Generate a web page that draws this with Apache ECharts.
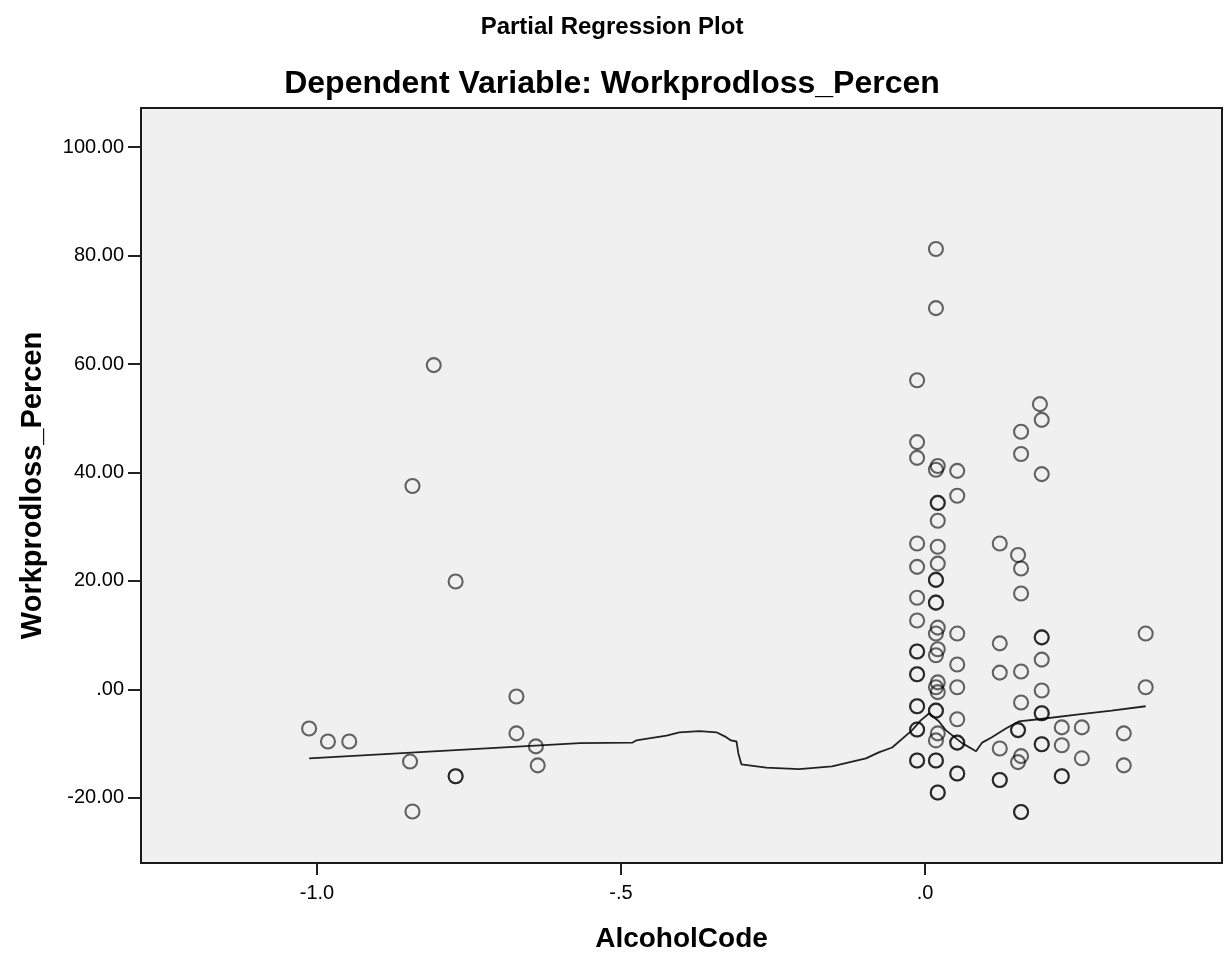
<!DOCTYPE html>
<html>
<head>
<meta charset="utf-8">
<script src="https://cdn.jsdelivr.net/npm/echarts@6/dist/echarts.min.js"></script>
<style>html,body{margin:0;padding:0;background:#fff}#c{width:1224px;height:958px}</style>
</head>
<body>
<div id="c"></div>
<script>
// Observed points: [AlcoholCode residual, Workprodloss_Percen residual]
var leftPoints = [
  [-1.013,-7.2],[-0.982,-9.6],[-0.947,-9.6],[-0.847,-13.3],[-0.843,-22.5],[-0.843,37.5],
  [-0.808,59.8],[-0.772,19.9],[-0.772,-16.0],[-0.772,-16.0],[-0.672,-1.3],[-0.672,-8.1],
  [-0.640,-10.5],[-0.637,-14.0]
];
var colNeg013 = [57.0,45.6,42.7,26.9,22.6,16.9,12.7,7.0,7.0,2.8,2.8,-3.1,-3.1,-7.4,-7.4,-13.1,-13.1];
var col018 = [81.2,70.3,40.5,20.2,20.2,16.0,16.0,10.3,6.3,0.4,-3.9,-3.9,-9.4,-13.1,-13.1];
var col021 = [41.2,34.4,34.4,31.1,26.3,23.2,11.4,7.4,1.3,-0.5,-8.1,-19.0,-19.0];
var col053 = [40.3,35.7,10.3,4.6,0.4,-5.5,-9.8,-9.8,-15.5,-15.5];
var col123 = [26.9,8.5,3.1,-10.9,-16.7,-16.7];
var col153 = [24.8,-7.5,-7.5,-13.4];
var col158 = [47.5,43.4,22.3,17.7,3.3,-2.4,-12.3,-22.6,-22.6];
var col189 = [52.6];
var col192 = [49.7,39.7,9.6,9.6,5.5,-0.2,-4.4,-4.4,-10.1,-10.1];
var col225 = [-7.0,-10.3,-16.0,-16.0];
var col258 = [-7.0,-12.7];
var col327 = [-8.1,-14.0];
var col363 = [10.3,0.4];

// Loess fit line
var fitX = [-1.013,-0.568,-0.481,-0.475,-0.425,-0.404,-0.371,-0.343,-0.327,-0.319,-0.310,-0.307,-0.302,-0.261,-0.207,-0.153,-0.097,-0.076,-0.054,-0.021,-0.007,0.007,0.023,0.034,0.061,0.084,0.094,0.110,0.133,0.154,0.187,0.253,0.307,0.363];
var fitY = [-12.7,-9.9,-9.8,-9.4,-8.5,-7.9,-7.7,-7.9,-8.8,-9.4,-9.6,-11.8,-13.8,-14.4,-14.7,-14.2,-12.7,-11.6,-10.7,-7.5,-5.7,-4.4,-5.9,-7.5,-9.9,-11.4,-9.8,-8.8,-7.2,-5.9,-5.5,-4.6,-3.9,-3.1];

var xTicks = [-1.0,-0.5,0.0];
var yTicks = [-20,0,20,40,60,80,100];

function col(x, ys){ return ys.map(function(y){return [x,y];}); }
var points = leftPoints
  .concat(col(-0.013,colNeg013)).concat(col(0.018,col018)).concat(col(0.021,col021))
  .concat(col(0.053,col053)).concat(col(0.123,col123)).concat(col(0.153,col153))
  .concat(col(0.158,col158)).concat(col(0.189,col189)).concat(col(0.192,col192))
  .concat(col(0.225,col225)).concat(col(0.258,col258)).concat(col(0.327,col327))
  .concat(col(0.363,col363));
var fit = fitX.map(function(x,i){return [x,fitY[i]];});

function fmt(v, d){
  var s = Math.abs(v).toFixed(d);
  if (s.charAt(0)==='0') s = s.substring(1);
  return (v < 0 ? '-' : '') + s;
}

var FONT = '"Liberation Sans", Arial, sans-serif';
var chart = echarts.init(document.getElementById('c'), null, {renderer:'canvas'});
chart.setOption({
  animation:false,
  backgroundColor:'#ffffff',
  title:[
    {text:'Partial Regression Plot', left:'center', top:10, textStyle:{fontFamily:FONT,fontWeight:'bold',fontSize:24,color:'#000'}},
    {text:'Dependent Variable: Workprodloss_Percen', left:'center', top:63, textStyle:{fontFamily:FONT,fontWeight:'bold',fontSize:32,color:'#000'}}
  ],
  grid:{left:141, top:108, width:1081, height:756, show:true, backgroundColor:'#f0f0f0', borderColor:'#1a1a1a', borderWidth:2},
  xAxis:{
    type:'value', min:-1.2895, max:0.4885,
    name:'AlcoholCode', nameLocation:'middle', nameGap:62,
    nameTextStyle:{fontFamily:FONT,fontWeight:'bold',fontSize:28,color:'#000'},
    splitLine:{show:false}, axisLine:{show:false, onZero:false},
    axisTick:{show:true, customValues:xTicks, length:12, lineStyle:{color:'#222',width:2}},
    axisLabel:{customValues:xTicks, margin:20, fontFamily:FONT, fontSize:20, color:'#000', formatter:function(v){return fmt(v,1);}}
  },
  yAxis:{
    type:'value', min:-32, max:107.2,
    name:'Workprodloss_Percen', nameLocation:'middle', nameRotate:90, nameGap:94,
    nameTextStyle:{fontFamily:FONT,fontWeight:'bold',fontSize:29,color:'#000'},
    splitLine:{show:false}, axisLine:{show:false, onZero:false},
    axisTick:{show:true, customValues:yTicks, length:13, lineStyle:{color:'#222',width:2}},
    axisLabel:{customValues:yTicks, margin:17, fontFamily:FONT, fontSize:20, color:'#000', formatter:function(v){return fmt(v,2);}}
  },
  series:[
    {type:'line', data:fit, showSymbol:false, symbol:'none', smooth:false, z:3,
     lineStyle:{color:'#222', width:1.8}},
    {type:'scatter', data:points, symbol:'circle', symbolSize:14, z:4,
     itemStyle:{color:'rgba(0,0,0,0)', borderColor:'rgba(0,0,0,0.74)', borderWidth:2.1}}
  ]
});
</script>
</body>
</html>
